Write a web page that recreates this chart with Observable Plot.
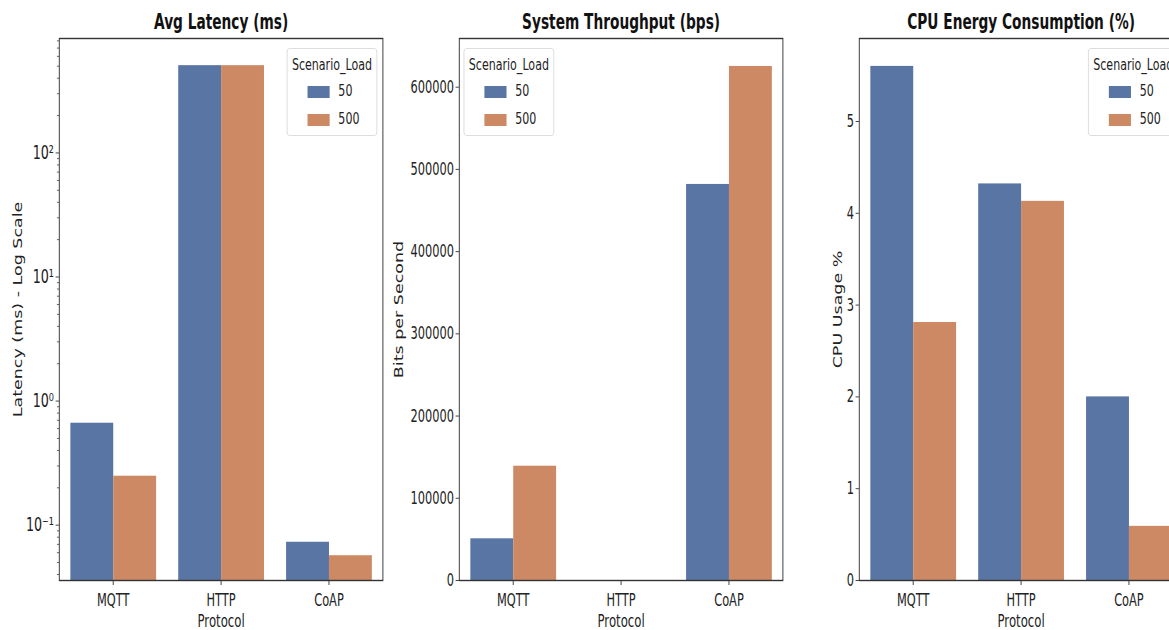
<!DOCTYPE html>
<html>
<head>
<meta charset="utf-8">
<script src="https://cdn.jsdelivr.net/npm/d3@7"></script>
<script src="https://cdn.jsdelivr.net/npm/@observablehq/plot@0.6"></script>
<style>
html, body { margin: 0; padding: 0; background: #fff; overflow: hidden; width: 1169px; height: 630px; }
#stage { position: absolute; left: 0; top: 0; width: 1800px; height: 630px; transform: scaleX(0.67); transform-origin: 0 0; font-family: "DejaVu Sans", sans-serif; color: #222; }
.panel { position: absolute; top: 0; height: 630px; }
.panel svg { overflow: visible; }
.legend { position: absolute; top: 48px; width: 135px; height: 88px; border: 1px solid #d6d6d6; border-radius: 4px; background: rgba(255,255,255,0.85); box-sizing: border-box; font-size: 16.5px; }
.legend .ttl { position: absolute; left: 0; right: 0; top: 6px; text-align: center; }
.legend .sw { position: absolute; left: 30px; width: 33px; height: 12px; }
.legend .lb { position: absolute; left: 76px; }
</style>
</head>
<body>
<div id="stage"></div>
<script>
// ---- data ----
const protocols = ["MQTT", "HTTP", "CoAP"];
const loads = ["50", "500"];
const colors = ["#5975a4", "#cc8963"];

const latency50 = [0.663, 505, 0.0728];
const latency500 = [0.248, 505, 0.0567];
const throughput50 = [50700, 0, 481700];
const throughput500 = [139000, 0, 625200];
const cpu50 = [5.60, 4.32, 2.00];
const cpu500 = [2.81, 4.13, 0.59];

const logTickValues = [0.1, 1, 10, 100];
const logTickLabels = ["10⁻¹", "10⁰", "10¹", "10²"];
const logMinorTicks = [0.04, 0.05, 0.06, 0.07, 0.08, 0.09, 0.2, 0.3, 0.4, 0.5, 0.6, 0.7, 0.8, 0.9,
  2, 3, 4, 5, 6, 7, 8, 9, 20, 30, 40, 50, 60, 70, 80, 90, 200, 300, 400, 500, 600, 700, 800];
const throughputTicks = [0, 100000, 200000, 300000, 400000, 500000, 600000];
const cpuTicks = [0, 1, 2, 3, 4, 5];

const titles = ["Avg Latency (ms)", "System Throughput (bps)", "CPU Energy Consumption (%)"];
const yLabels = ["Latency (ms) - Log Scale", "Bits per Second", "CPU Usage %"];
const xLabel = "Protocol";
const legendTitle = "Scenario_Load";

function tidy(v50, v500) {
  return protocols.flatMap((p, i) => [
    {protocol: p, load: loads[0], value: v50[i]},
    {protocol: p, load: loads[1], value: v500[i]}
  ]);
}

const stage = document.getElementById("stage");

function makePanel(cfg) {
  const div = document.createElement("div");
  div.className = "panel";
  div.style.left = cfg.left + "px";
  const data = tidy(cfg.v50, cfg.v500);
  const y0 = cfg.y.domain[0];
  const marks = [
    Plot.barY(data, {fx: "protocol", x: "load", y1: y0, y2: "value", fill: "load"}),
    ...(cfg.minor ? [Plot.axisY({ticks: cfg.minor, tickSize: 3, tickFormat: () => "", label: null, stroke: "#444"})] : []),
    Plot.axisY({ticks: cfg.ticks, tickFormat: cfg.tickFormat, tickSize: 5, tickPadding: 3, label: null, fontSize: cfg.tickFontSize}),
    Plot.axisFx({anchor: "bottom", tickSize: 5, tickPadding: 8, label: null}),
    Plot.frame({facet: "super", stroke: "#333", strokeWidth: 1.4}),
    Plot.text([cfg.title], {facet: "super", text: d => d, frameAnchor: "top", lineAnchor: "middle", dy: -16, fontWeight: "bold", fontSize: 20.5, fill: "#111"}),
    Plot.text([xLabel], {facet: "super", text: d => d, frameAnchor: "bottom", lineAnchor: "middle", dy: 41, fontSize: 17.5}),
    Plot.text([cfg.ylabel], {facet: "super", text: d => d, frameAnchor: "left", textAnchor: "middle", lineAnchor: "middle", dx: cfg.labelDx, rotate: -90, fontSize: 17.5})
  ];
  const chart = Plot.plot({
    width: cfg.width,
    height: 630,
    marginLeft: cfg.marginLeft,
    marginRight: cfg.marginRight,
    marginTop: 38,
    marginBottom: 50,
    style: {fontFamily: "DejaVu Sans", fontSize: "17px", color: "#222", background: "transparent"},
    fx: {domain: protocols, padding: 0, label: null},
    x: {domain: loads, paddingInner: 0, paddingOuter: 0.25, axis: null},
    y: {...cfg.y, label: null},
    color: {domain: loads, range: colors},
    marks
  });
  div.appendChild(chart);
  stage.appendChild(div);

  const lg = document.createElement("div");
  lg.className = "legend";
  lg.style.left = cfg.legendLeft + "px";
  let html = `<div class="ttl">${legendTitle}</div>`;
  loads.forEach((l, i) => {
    const cy = 43 + i * 27.5;
    html += `<div class="sw" style="top:${cy - 6}px;background:${colors[i]}"></div>`;
    html += `<div class="lb" style="top:${cy - 11}px">${l}</div>`;
  });
  lg.innerHTML = html;
  stage.appendChild(lg);
}

makePanel({
  left: 0, width: 581, marginLeft: 87, marginRight: 10,
  title: titles[0], ylabel: yLabels[0], labelDx: -61,
  v50: latency50, v500: latency500,
  y: {type: "log", domain: [0.0358, 836]},
  ticks: logTickValues, tickFormat: (d, i) => logTickLabels[logTickValues.indexOf(d)],
  tickFontSize: 19,
  minor: logMinorTicks, legendLeft: 428
});
makePanel({
  left: 560, width: 618, marginLeft: 124, marginRight: 10,
  title: titles[1], ylabel: yLabels[1], labelDx: -90,
  v50: throughput50, v500: throughput500,
  y: {type: "linear", domain: [0, 659200]},
  ticks: throughputTicks, tickFormat: d => String(d),
  legendLeft: 692
});
makePanel({
  left: 1180, width: 615, marginLeft: 101, marginRight: 30,
  title: titles[2], ylabel: yLabels[2], labelDx: -31,
  v50: cpu50, v500: cpu500,
  y: {type: "linear", domain: [0, 5.904]},
  ticks: cpuTicks, tickFormat: d => String(d),
  legendLeft: 1624
});
</script>
</body>
</html>
